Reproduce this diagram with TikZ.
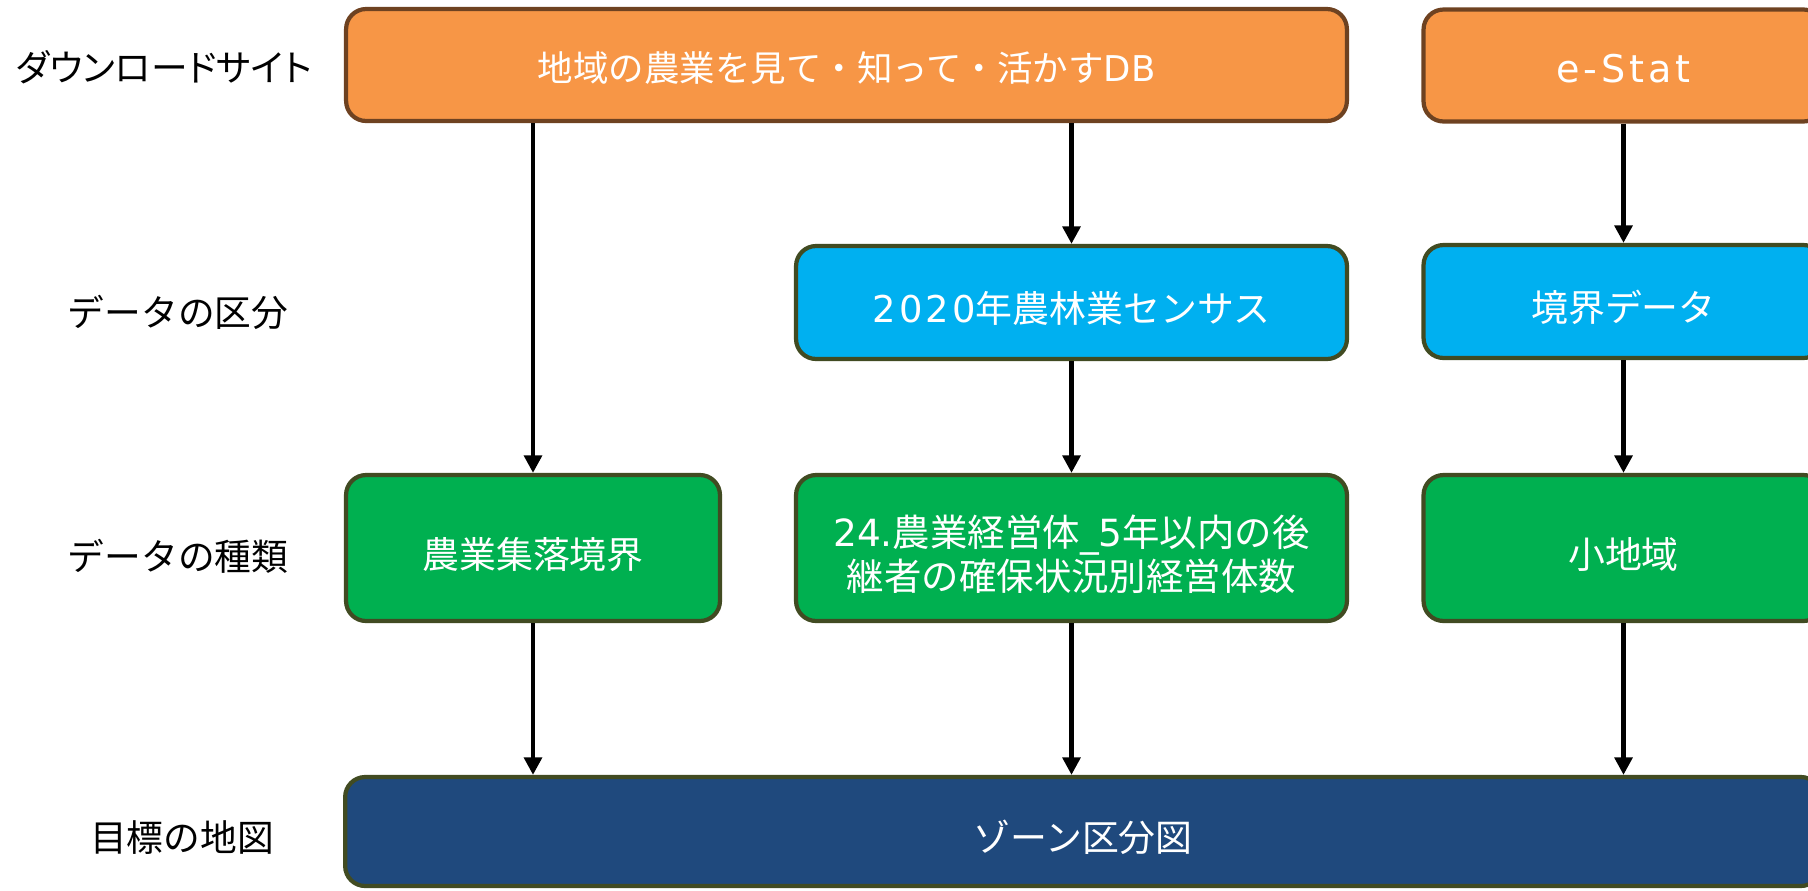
\documentclass[tikz,border=0pt]{standalone}
\usepackage{fontspec}
\setmainfont{Noto Sans CJK JP}
\newfontfamily\latinfont{DejaVu Sans}
\usepackage{xcolor}
\usetikzlibrary{positioning, arrows.meta}

\definecolor{sitefill}{HTML}{F79646}
\definecolor{siteline}{HTML}{6E4221}
\definecolor{kindfill}{HTML}{00B0F0}
\definecolor{typefill}{HTML}{00B050}
\definecolor{mapfill}{HTML}{1F497D}
\definecolor{boxline}{HTML}{414B22}
\newcommand{\latinpart}[2][0]{{\latinfont\addfontfeature{LetterSpace=#1}#2}}

\begin{document}
\begin{tikzpicture}[x=0.02cm, y=-0.02cm,
  box/.style={draw=boxline, line width=2.4pt, rounded corners=0.4cm,
              text=white, align=center, inner sep=0pt,
              text height=25.7pt, text depth=2.5pt,
              font=\fontsize{21}{26}\selectfont},
  sitebox/.style={box, draw=siteline, fill=sitefill,
                  text height=21.7pt, minimum height=2.24cm},
  kindbox/.style={box, fill=kindfill, minimum height=2.26cm},
  typebox/.style={box, fill=typefill, minimum height=2.92cm},
  mapbox/.style={box, fill=mapfill, minimum height=2.18cm},
  lbl/.style={font=\fontsize{20.9}{25}\selectfont, inner sep=0pt},
  arr/.style={-{Triangle[length=0.35cm, width=0.35cm]}, line width=2.6pt}
]
\useasboundingbox (0,0) rectangle (1808,890);
\clip (0,0) rectangle (1808,890);

\node[lbl, font=\fontsize{20.9}{25}\selectfont\addfontfeature{RawFeature=+palt}]
  (l1) at (164,67) {ダウンロードサイト};
\node[lbl] (l2) at (178,312) {データの区分};
\node[lbl] (l3) at (178,556) {データの種類};
\node[lbl] (l4) at (182,838) {目標の地図};

\node[sitebox, minimum width=20.02cm, font=\fontsize{20.2}{25}\selectfont]
  (dbsite) at (846.5,65) {地域の農業を見て・知って・活かす\latinpart{DB}};
\node[sitebox, minimum width=8cm, font=\fontsize{21.7}{26}\selectfont]
  (estat) at (1623.5,65.5) {\latinpart[10]{e-Stat}};

\node[kindbox, minimum width=11.02cm]
  (census) at (1071.5,302.5) {\latinpart[8]{2020}年農林業センサス};
\node[kindbox, minimum width=8cm] (kyokai) at (1623.5,301.5) {境界データ};

\node[typebox, minimum width=7.48cm] (shuraku) at (533,548) {農業集落境界};
\node[typebox, minimum width=11.02cm, text height=50.5pt,
      font=\fontsize{21.3}{24.8}\selectfont]
  (koukei) at (1071.5,548)
  {\latinpart{24.}農業経営体\latinpart{\_5}年以内の後\\継者の確保状況別経営体数};
\node[typebox, minimum width=8cm] (chiiki) at (1623.5,548) {小地域};

\node[mapbox, minimum width=29.52cm] (zonemap) at (1083,831.5) {ゾーン区分図};

\draw[arr] (dbsite.south -| shuraku) -- (shuraku.north);
\draw[arr] (dbsite.south -| census) -- (census.north);
\draw[arr] (census) -- (koukei);
\draw[arr] (estat) -- (kyokai);
\draw[arr] (kyokai) -- (chiiki);
\draw[arr] (shuraku) -- (shuraku |- zonemap.north);
\draw[arr] (koukei) -- (koukei |- zonemap.north);
\draw[arr] (chiiki) -- (chiiki |- zonemap.north);
\end{tikzpicture}
\end{document}
